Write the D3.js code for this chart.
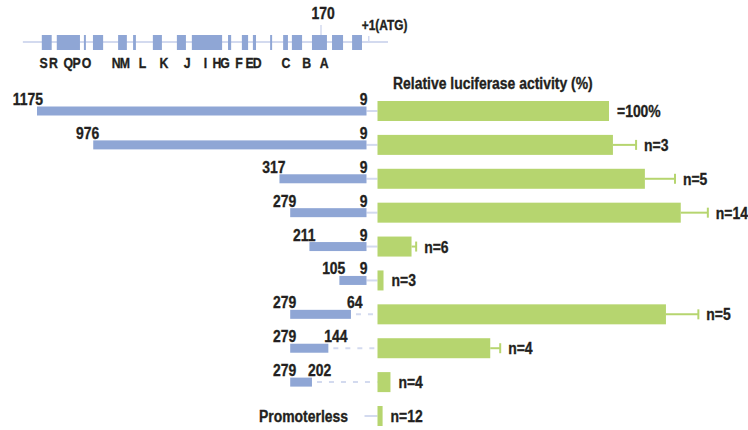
<!DOCTYPE html>
<html>
<head>
<meta charset="utf-8">
<script src="https://cdn.jsdelivr.net/npm/d3@7"></script>
<style>
  body { margin: 0; background: #fff; }
  text { font-family: "Liberation Sans", Arial, sans-serif; font-weight: bold; fill: #231f20; stroke: #231f20; stroke-width: 0.35px; }
</style>
</head>
<body>
<script>
// gene map (bp upstream of ATG)
const exonStart = [1123, 1023, 1002, 941, 857, 825, 733, 648, 520, 488, 428, 400, 343, 287, 237, 149, 92, 25]
const exonEnd   = [1158, 1105, 1009, 977, 888, 835, 765, 680, 627, 499, 450, 411, 350, 304, 273, 202, 131, 60]
const exonLetters = ['S','R','Q','P','O','N','M','L','K','J','I','H','G','F','E','D','C','B','A']
const letterPos = [1152, 1117, 1064, 1035, 1000, 895, 864, 802, 726, 644, 579, 538, 510, 460, 423, 396, 294, 221, 159]

// promoter constructs
const constructStart = [1175, 976, 317, 279, 211, 105, 279, 279, 279]
const constructEnd   = [9, 9, 9, 9, 9, 9, 64, 144, 202]
const activity    = [100, 101.7, 115.5, 131, 14.7, 2.6, 124.6, 48.7, 5.6, 2.2]
const activityErr = [0, 10, 13, 11.7, 2, 0, 14, 4.3, 0, 0]
const nLabels = ['=100%', 'n=3', 'n=5', 'n=14', 'n=6', 'n=3', 'n=5', 'n=4', 'n=4', 'n=12']

let width = 748;
let height = 430;
const blue = '#8fa6d5'
const green = '#b6d56f'
const lineCol = '#d3daef'
const narrow = 0.82

const svg = d3.select('body').append('svg').attr('width', width).attr('height', height)

const x = d3.scaleLinear().domain([9, 1175]).range([366.5, 37])
const xa = d3.scaleLinear().domain([0, 100]).range([377.5, 609])
const y = d3.scalePoint().domain(d3.range(activity.length)).range([111, 416])

// condensed bold text, placed by transform
const label = (sel, fx, fy, size) => sel
  .attr('transform', (d, i) => `translate(${fx(d, i)},${fy(d, i)}) scale(${narrow},1)`)
  .style('font-size', size + 'px')

// gene map
const map = svg.append('g')
map.append('line').attr('x1', x(1225)).attr('x2', x(-67)).attr('y1', 42).attr('y2', 42)
  .attr('stroke', lineCol).attr('stroke-width', 2)
map.selectAll('.exon').data(exonStart).enter().append('rect')
  .attr('class', 'exon')
  .attr('x', (d, i) => x(exonEnd[i]))
  .attr('width', (d, i) => x(d) - x(exonEnd[i]))
  .attr('y', 35).attr('height', 15)
  .attr('fill', blue)
map.selectAll('.letter').data(exonLetters).enter().append('text')
  .attr('class', 'letter')
  .attr('text-anchor', 'middle')
  .call(label, (d, i) => x(letterPos[i]), () => 68, 15)
  .text(d => d)
map.append('line').attr('x1', x(170)).attr('x2', x(170)).attr('y1', 25).attr('y2', 35)
  .attr('stroke', lineCol).attr('stroke-width', 1.5)
map.append('text').attr('text-anchor', 'middle')
  .call(label, () => x(170) + 2, () => 19, 17).text('170')
map.append('line').attr('x1', x(1)).attr('x2', x(1)).attr('y1', 36).attr('y2', 42)
  .attr('stroke', lineCol).attr('stroke-width', 1.5)
map.append('text')
  .call(label, () => x(1) - 7, () => 30, 14.5).text('+1(ATG)')

// header
svg.append('text').call(label, () => 393, () => 89, 17)
  .text('Relative luciferase activity (%)')

// connectors
const rows = svg.selectAll('.row').data(activity).enter().append('g').attr('class', 'row')
rows.append('line')
  .attr('x1', (d, i) => i < constructEnd.length && constructEnd[i] > 9 ? x(constructEnd[i]) + 5 : x(9) - (i < constructEnd.length ? 0 : 2))
  .attr('x2', xa(0))
  .attr('y1', (d, i) => y(i)).attr('y2', (d, i) => y(i))
  .attr('stroke', lineCol).attr('stroke-width', 2)
  .attr('stroke-dasharray', (d, i) => i < constructEnd.length && constructEnd[i] > 9 ? '5,7' : null)

// blue constructs
svg.selectAll('.construct').data(constructStart).enter().append('rect')
  .attr('class', 'construct')
  .attr('x', d => x(d))
  .attr('width', (d, i) => x(constructEnd[i]) - x(d))
  .attr('y', (d, i) => y(i) - 4.5).attr('height', 9)
  .attr('fill', blue)
svg.selectAll('.startLab').data(constructStart).enter().append('text')
  .attr('text-anchor', 'end')
  .call(label, d => x(d) + 6, (d, i) => y(i) - 6, 17)
  .text(d => d)
svg.selectAll('.endLab').data(constructEnd).enter().append('text')
  .attr('text-anchor', d => d == 9 ? 'end' : 'start')
  .call(label, d => d == 9 ? x(d) + 1 : x(d) - 4, (d, i) => y(i) - 6, 17)
  .text(d => d)
svg.append('text').attr('text-anchor', 'end')
  .call(label, () => 348, () => y(9) + 6, 17).text('Promoterless')

// green activity bars
rows.append('rect')
  .attr('x', xa(0))
  .attr('width', d => xa(d) - xa(0))
  .attr('y', (d, i) => y(i) - 10).attr('height', 20)
  .attr('fill', green)
rows.each(function (d, i) {
  if (!activityErr[i]) return
  const g = d3.select(this)
  const e = xa(d + activityErr[i])
  g.append('line').attr('x1', xa(d)).attr('x2', e).attr('y1', y(i)).attr('y2', y(i))
    .attr('stroke', green).attr('stroke-width', 2)
  g.append('line').attr('x1', e).attr('x2', e).attr('y1', y(i) - 5).attr('y2', y(i) + 5)
    .attr('stroke', green).attr('stroke-width', 2)
})
rows.append('text')
  .call(label, (d, i) => xa(d + activityErr[i]) + 8, (d, i) => y(i) + 6, 17)
  .text((d, i) => nLabels[i])
</script>
</body>
</html>
